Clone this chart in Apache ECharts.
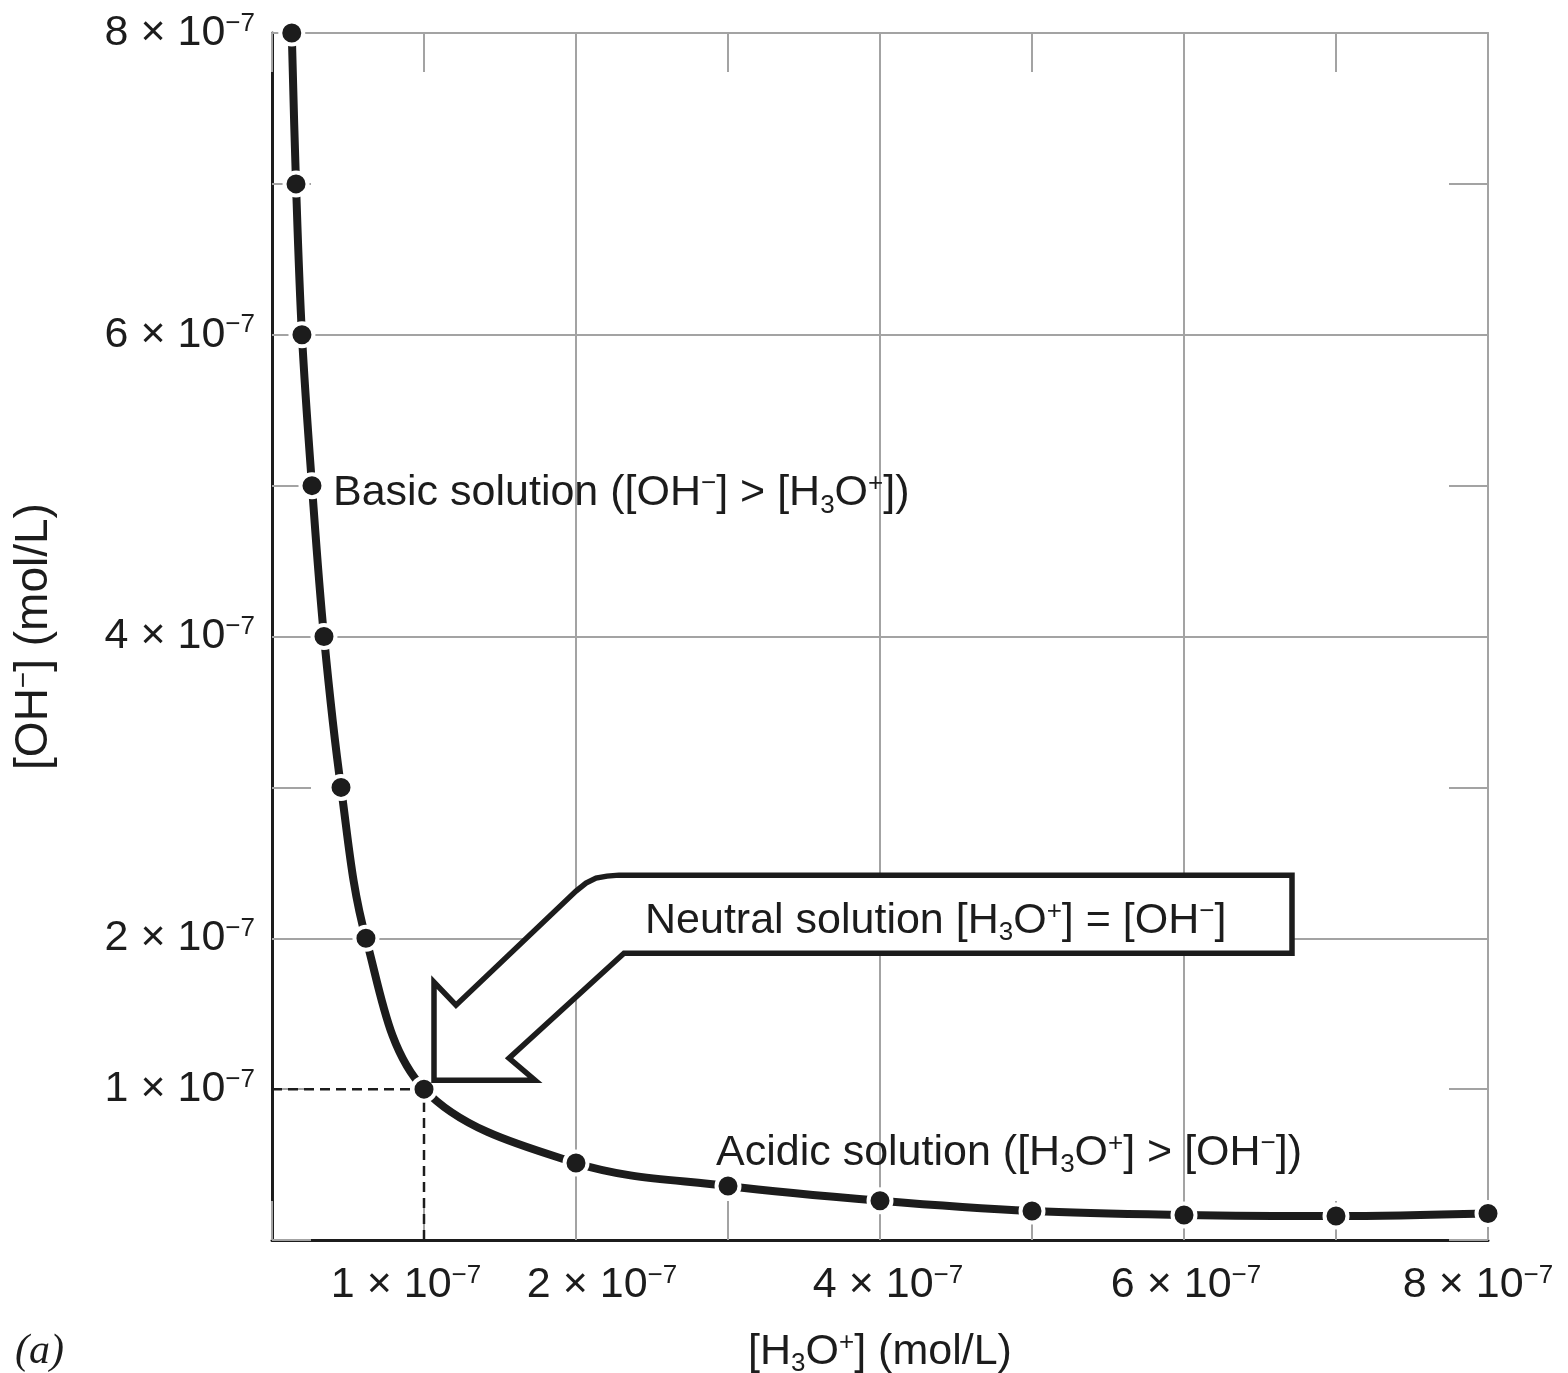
<!DOCTYPE html>
<html>
<head>
<meta charset="utf-8">
<script src="https://cdn.jsdelivr.net/npm/echarts@6/dist/echarts.min.js"></script>
<style>html,body{margin:0;padding:0;background:#fff}#c{width:1568px;height:1373px}</style>
</head>
<body>
<div id="c"></div>
<script>
// ---- data (mol/L) ----
const h3oValues = [1.30e-8, 1.58e-8, 1.97e-8, 2.63e-8, 3.42e-8, 4.54e-8, 6.18e-8, 1e-7, 2e-7, 3e-7, 4e-7, 5e-7, 6e-7, 7e-7, 8e-7];
const ohValues  = [8e-7, 7e-7, 6e-7, 5e-7, 4e-7, 3e-7, 2e-7, 1e-7, 5.10e-8, 3.58e-8, 2.60e-8, 1.92e-8, 1.66e-8, 1.59e-8, 1.76e-8];
const neutralPoint = [1e-7, 1e-7];
const xTickLabelValues = [1e-7, 2e-7, 4e-7, 6e-7, 8e-7];
const yTickLabelValues = [1e-7, 2e-7, 4e-7, 6e-7, 8e-7];
const tickExponent = '−7';
const xAxisTitle = '{t|[H}{sub|3}{t|O}{sup|+}{t|] (mol/L)}';
const yAxisTitle = '{t|[OH}{sup|−}{t|] (mol/L)}';
const basicText = '{t|Basic solution ([OH}{sup|−}{t|] > [H}{sub|3}{t|O}{sup|+}{t|])}';
const acidicText = '{t|Acidic solution ([H}{sub|3}{t|O}{sup|+}{t|] > [OH}{sup|−}{t|])}';
const neutralText = '{t|Neutral solution [H}{sub|3}{t|O}{sup|+}{t|] = [OH}{sup|−}{t|]}';
const panelLabel = '(a)';

// ---- styling ----
const FONT = 'Liberation Sans, Arial, Helvetica, sans-serif';
const INK = '#1c1c1c';
const GRID = '#a3a3a3';
const FS = 43;
// horizontal nudges (px) of the x tick labels, as placed in the original figure
const xLabelNudge = [-18, 26, 8, 2, -10];

function rich(size) {
  return {
    t: {fontSize: size, fontFamily: FONT, color: INK},
    n: {fontSize: size, fontFamily: FONT, color: INK},
    sup: {fontSize: Math.round(size * 0.6), fontFamily: FONT, color: INK, padding: [0, 0, Math.round(size * 0.44), 0]},
    sub: {fontSize: Math.round(size * 0.6), fontFamily: FONT, color: INK, padding: [Math.round(size * 0.56), 0, 0, 0]}
  };
}

function xLabelRich(size) {
  const r = rich(size);
  xLabelNudge.forEach((s, i) => {
    r['n' + i] = {fontSize: size, fontFamily: FONT, color: INK, padding: [0, 0, 0, s > 0 ? 2 * s : 0]};
    r['s' + i] = {fontSize: Math.round(size * 0.6), fontFamily: FONT, color: INK,
                  padding: [0, s < 0 ? -2 * s : 0, Math.round(size * 0.44), 0]};
  });
  return r;
}

function tickFormatter(list, nudged) {
  return function (v) {
    for (let i = 0; i < list.length; i++) {
      const t = list[i];
      if (Math.abs(v - t) < 1e-12) {
        const m = Math.round(t / 1e-7);
        if (nudged) return '{n' + i + '|' + m + ' × 10}{s' + i + '|' + tickExponent + '}';
        return '{n|' + m + ' × 10}{sup|' + tickExponent + '}';
      }
    }
    return '';
  };
}

const chart = echarts.init(document.getElementById('c'), null, {renderer: 'canvas'});

const common = {type: 'value', min: 0, max: 8e-7};

const option = {
  animation: false,
  backgroundColor: '#fff',
  grid: {left: 272, right: 80, top: 33, bottom: 133, containLabel: false, outerBoundsMode: 'none'},
  xAxis: [
    Object.assign({}, common, {
      position: 'bottom', interval: 1e-7,
      axisLine: {show: true, onZero: false, lineStyle: {color: INK, width: 3}},
      axisTick: {show: true, inside: true, length: 39, lineStyle: {color: GRID, width: 2}},
      splitLine: {show: false},
      axisLabel: {formatter: tickFormatter(xTickLabelValues, true), margin: 23, rich: xLabelRich(FS), fontSize: FS, fontFamily: FONT, color: INK, showMinLabel: true, showMaxLabel: true, hideOverlap: false},
      name: xAxisTitle, nameLocation: 'middle', nameGap: 87,
      nameTextStyle: {fontSize: FS, fontFamily: FONT, color: INK, rich: rich(FS)}
    }),
    Object.assign({}, common, {
      position: 'top', interval: 1e-7,
      axisLine: {show: true, onZero: false, lineStyle: {color: GRID, width: 2}},
      axisTick: {show: true, inside: true, length: 39, lineStyle: {color: GRID, width: 2}},
      splitLine: {show: false},
      axisLabel: {show: false}
    }),
    Object.assign({}, common, {
      position: 'bottom', interval: 2e-7,
      axisLine: {show: false}, axisTick: {show: false}, axisLabel: {show: false},
      splitLine: {show: true, lineStyle: {color: GRID, width: 2}}
    })
  ],
  yAxis: [
    Object.assign({}, common, {
      position: 'left', interval: 1e-7,
      axisLine: {show: true, onZero: false, lineStyle: {color: INK, width: 3}},
      axisTick: {show: true, inside: true, length: 39, lineStyle: {color: GRID, width: 2}},
      splitLine: {show: false},
      axisLabel: {formatter: tickFormatter(yTickLabelValues, false), margin: 17, rich: rich(FS), fontSize: FS, fontFamily: FONT, color: INK, showMinLabel: true, showMaxLabel: true},
      name: yAxisTitle, nameLocation: 'middle', nameGap: 214,
      nameTextStyle: {fontSize: 46, fontFamily: FONT, color: INK, rich: rich(46)}
    }),
    Object.assign({}, common, {
      position: 'right', interval: 1e-7,
      axisLine: {show: true, onZero: false, lineStyle: {color: GRID, width: 2}},
      axisTick: {show: true, inside: true, length: 39, lineStyle: {color: GRID, width: 2}},
      splitLine: {show: false},
      axisLabel: {show: false}
    }),
    Object.assign({}, common, {
      position: 'left', interval: 2e-7,
      axisLine: {show: false}, axisTick: {show: false}, axisLabel: {show: false},
      splitLine: {show: true, lineStyle: {color: GRID, width: 2}}
    })
  ],
  series: [
    {
      type: 'line', xAxisIndex: 0, yAxisIndex: 0, z: 3,
      data: [[0, neutralPoint[1]], [neutralPoint[0], neutralPoint[1]]],
      symbol: 'none', lineStyle: {color: INK, width: 2.5, type: [10, 6]}, silent: true
    },
    {
      type: 'line', xAxisIndex: 0, yAxisIndex: 0, z: 3,
      data: [[neutralPoint[0], 0], [neutralPoint[0], neutralPoint[1]]],
      symbol: 'none', lineStyle: {color: INK, width: 2.5, type: [10, 6]}, silent: true
    },
    {
      type: 'line', xAxisIndex: 0, yAxisIndex: 0, z: 5,
      data: h3oValues.map((x, i) => [x, ohValues[i]]),
      smooth: 0.35,
      symbol: 'circle', symbolSize: 23, showAllSymbol: true,
      lineStyle: {color: INK, width: 8},
      itemStyle: {color: INK, borderColor: '#fff', borderWidth: 4}
    }
  ]
};

chart.setOption(option);

// ---- annotations positioned from data coordinates ----
const toPx = (pt) => chart.convertToPixel({xAxisIndex: 0, yAxisIndex: 0}, pt);
const p = toPx(neutralPoint);
const arrowOffsets = [
  [10, -9], [10, -107], [32, -84], [152, -198], [162, -206], [172, -211], [183, -213], [195, -214],
  [868, -214], [868, -136], [200, -136], [85, -31], [111, -9]
];
const arrowPts = arrowOffsets.map(o => [p[0] + o[0], p[1] + o[1]]);
const basicAnchor = toPx([h3oValues[3], ohValues[3]]);
const acidicAnchor = toPx([h3oValues[9], ohValues[9]]);

function txt(x, y, text) {
  return {
    type: 'text', x: x, y: y, z: 20,
    style: {
      text: text, rich: rich(FS), fontSize: FS, fontFamily: FONT, fill: INK,
      align: 'left', verticalAlign: 'middle', textAlign: 'left', textVerticalAlign: 'middle'
    }
  };
}

chart.setOption({
  graphic: [
    {
      type: 'polygon', z: 10,
      shape: {points: arrowPts},
      style: {fill: '#fff', stroke: INK, lineWidth: 5.5, lineJoin: 'miter'}
    },
    txt(p[0] + 221, p[1] - 168, neutralText),
    txt(basicAnchor[0] + 21, basicAnchor[1] + 8, basicText),
    txt(acidicAnchor[0] - 12, acidicAnchor[1] - 33, acidicText),
    {
      type: 'text', x: 15, y: 1352, z: 20,
      style: {
        text: panelLabel, fontSize: 42, fontStyle: 'italic', fontFamily: 'Liberation Serif, Times New Roman, serif',
        fill: INK, align: 'left', verticalAlign: 'middle', textAlign: 'left', textVerticalAlign: 'middle'
      }
    }
  ]
});
</script>
</body>
</html>
